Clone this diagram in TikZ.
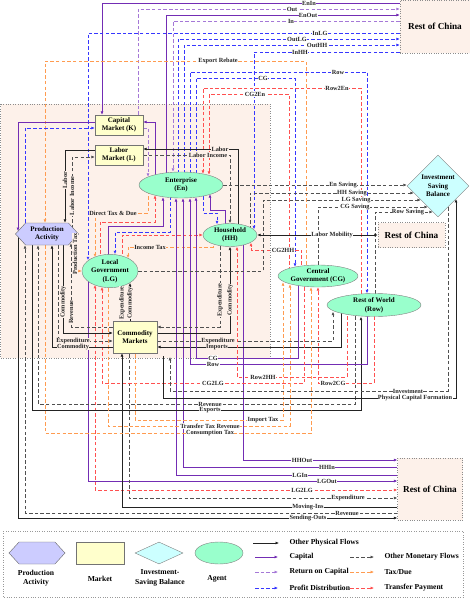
\documentclass[tikz,border=0pt]{standalone}
\usepackage{fontspec}
\setmainfont{Liberation Serif}
\usetikzlibrary{arrows.meta,shapes.geometric,shapes.symbols}

\definecolor{localbg}{RGB}{253,241,234}
\definecolor{mktyellow}{RGB}{255,255,204}
\definecolor{agentgreen}{RGB}{153,255,204}
\definecolor{isbcyan}{RGB}{204,255,255}
\definecolor{actblue}{RGB}{204,204,255}
\definecolor{physblack}{RGB}{35,35,35}
\definecolor{capviolet}{RGB}{115,45,180}
\definecolor{retviolet}{RGB}{165,120,215}
\definecolor{profblue}{RGB}{55,55,255}
\definecolor{moneygray}{RGB}{80,80,80}
\definecolor{taxorange}{RGB}{255,155,80}
\definecolor{transred}{RGB}{255,80,80}

\pgfdeclarelayer{back}
\pgfdeclarelayer{flows}
\pgfsetlayers{back,flows,main}

\begin{document}
\begin{tikzpicture}[x=1pt, y=-1pt, >={Latex[length=3.4pt,width=3pt]},
    every node/.style={font=\fontsize{7}{8.6}\selectfont\bfseries, align=center},
    market/.style={draw=black!55, fill=mktyellow, inner sep=0pt},
    agent/.style={ellipse, draw=black!50, fill=agentgreen, inner sep=0pt},
    activity/.style={signal, signal to=east and west, signal pointer angle=95,
                     draw=black!60, fill=actblue, inner sep=0pt},
    isb/.style={diamond, draw=black!50, fill=isbcyan, inner sep=0pt},
    chinabox/.style={draw=black!45, dotted, fill=localbg,
                     font=\fontsize{9.2}{10}\selectfont\bfseries},
    phys/.style={draw=physblack, line width=0.95pt},
    capflow/.style={draw=capviolet, line width=0.95pt},
    dashflow/.style={line width=0.85pt, dash pattern=on 3.5pt off 2.2pt},
    retcap/.style={dashflow, draw=retviolet},
    profit/.style={dashflow, draw=profblue},
    money/.style={dashflow, draw=moneygray},
    taxdue/.style={dashflow, draw=taxorange},
    transfer/.style={dashflow, draw=transred},
    lbl/.style={font=\fontsize{6.3}{7}\selectfont\bfseries, fill=white,
                inner sep=0.4pt, text=black!85},
    lblin/.style={lbl, fill=localbg},
    legtext/.style={font=\fontsize{7.6}{9}\selectfont\bfseries, anchor=west}]

    \useasboundingbox (0,0) rectangle (470,599);

    % 1. Local economy region
    \begin{pgfonlayer}{back}
        \draw[black!45, dotted, fill=localbg] (0.5,104) rectangle (270,358);
    \end{pgfonlayer}

    % 2. Markets, agents and the rest of China
    \node[market, minimum width=48pt, minimum height=20pt] (K) at (119,125) {Capital\\Market (K)};
    \node[market, minimum width=48pt, minimum height=20pt] (L) at (119,155) {Labor\\Market (L)};
    \node[agent, minimum width=84pt, minimum height=26pt] (En) at (181,185) {Enterprise\\(En)};
    \node[agent, minimum width=54pt, minimum height=23pt] (HH) at (230,235) {Household\\(HH)};
    \node[agent, minimum width=56pt, minimum height=32pt] (LG) at (110,271) {Local\\Government\\(LG)};
    \node[agent, minimum width=80pt, minimum height=22pt] (CG) at (318,276) {Central\\Government (CG)};
    \node[agent, minimum width=94pt, minimum height=23pt] (Row) at (374,305) {Rest of World\\(Row)};
    \node[isb, minimum width=62pt, minimum height=62pt] (ISB) at (438,186) {Investment\\Saving\\Balance};
    \node[activity, minimum width=63pt, minimum height=22pt] (PA) at (47,234) {Production\\Activity};
    \node[market, minimum width=44pt, minimum height=32pt] (CM) at (135,337) {Commodity\\Markets};
    \node[chinabox, minimum width=70pt, minimum height=53pt] (RC1) at (435,26.5) {Rest of China};
    \node[chinabox, minimum width=67pt, minimum height=25pt] (RC2) at (411.5,235) {Rest of China};
    \node[chinabox, minimum width=65pt, minimum height=62pt] (RC3) at (430,489) {Rest of China};

    \coordinate (invend)   at (170,357);
    \coordinate (pcfstart) at (163,356);

    \begin{pgfonlayer}{flows}
    % 3. Flows with the rest of China (top)
    \draw[capflow,->] (RC1.west |- 0,3) -| (K.north -| 102,0);
    \draw[retcap,->] (K.north -| 138,0) |- (RC1.west |- 0,9);
    \draw[capflow,->] (En.center -| 166,0) |- (RC1.west |- 0,15);
    \draw[retcap,->] (RC1.west |- 0,21) -| (En.north -| 173,0);
    \draw[profit,->] (RC1.west |- 0,33) -| ([yshift=-6pt]LG.north -| 88,0);
    \draw[profit,->] (En.center -| 178,0) |- (RC1.west |- 0,39);
    \draw[profit,->] (En.center -| 184,0) |- (RC1.west |- 0,45);
    \draw[profit,->] (RC1.west |- 0,52) -| ([yshift=-6pt]HH.north -| 254,0);

    % 4. Payments to and from the centre and the world (top)
    \draw[taxdue,->] (CG.center -| 306,0) |- (45,61) -- (PA.north -| 45,0);
    \draw[profit,->] (En.center -| 190,0) |- (367,72) -- (Row.north -| 367,0);
    \draw[profit,->] (En.center -| 196,0) |- (295,78) -- ([yshift=-2pt]CG.north -| 295,0);
    \draw[transfer,->] (Row.center -| 361,0) |- (203,88) -- ([yshift=-2pt]En.north -| 203,0);
    \draw[transfer,->] (CG.center -| 289,0) |- (209,94) -- ([yshift=-3pt]En.north -| 209,0);

    % 5. Capital and labor markets
    \draw[capflow,->] (En.center -| 155,0) |- (K.east |- 0,122);
    \draw[capflow,->] (K.west |- 0,122) -| ([yshift=3pt]PA.center -| 18,0);
    \draw[retcap,->] (K.east |- 0,128) -| ([yshift=-5pt]En.north -| 148,0);
    \draw[profit,->] (PA.center -| 25,0) |- (K.west |- 0,128);
    \draw[phys,->] (HH.center -| 238,0) |- (L.east |- 0,149);
    \draw[money,->] (L.east |- 0,155) -| (HH.north -| 230,0);
    \draw[phys,->] (L.west |- 0,150) -| (PA.north -| 65,0);
    \draw[money,->] (PA.center -| 72,0) |- (L.west |- 0,157);

    % 6. Taxes, transfers and capital around the local government
    \draw[taxdue,->] (En.center -| 148,0) |- (95,213) -- ([yshift=-3pt]LG.north -| 95,0);
    \draw[taxdue,->] (HH.center -| 213,0) |- (128,247) -- ([yshift=-4pt]LG.north -| 128,0);
    \draw[transfer,->] (LG.center -| 100,0) |- (155,222) -- ([yshift=3pt]En.south -| 155,0);
    \draw[capflow,->] (LG.center -| 108,0) |- (163,226) -- ([yshift=1pt]En.south -| 163,0);
    \draw[profit,->] (En.center -| 170,0) |- (115,232) -- (LG.north -| 115,0);
    \draw[transfer,->] (LG.center -| 122,0) |- (HH.west);
    \draw[profit,->] (En.center -| 203,0) |- (217,213) -- ([yshift=-1pt]HH.north -| 217,0);
    \draw[capflow,->] (HH.center -| 225,0) |- (210,210) -- ([yshift=4pt]En.south -| 210,0);
    \draw[taxdue,->] (PA.center -| 75,0) |- (LG.west);

    % 7. Flows with the rest of China (bottom)
    \draw[capflow,->] (HH.center -| 243,0) |- (RC3.west |- 0,460);
    \draw[capflow,->] (RC3.west |- 0,467) -| (En.south -| 183,0);
    \draw[capflow,->] (RC3.west |- 0,475) -| (En.south -| 176,0);
    \draw[capflow,->] (LG.center -| 88,0) |- (RC3.west |- 0,481);
    \draw[transfer,<->] ([yshift=3pt]LG.south -| 95,0) |- (RC3.west |- 0,490);
    \draw[money,->] (CM.center -| 129,0) |- (RC3.west |- 0,498);
    \draw[phys,->] (RC3.west |- 0,507) -| (CM.south -| 122,0);
    \draw[money,->] (RC3.west |- 0,513) -| (PA.south -| 25,0);
    \draw[phys,->] (PA.center -| 18,0) |- (RC3.west |- 0,518);

    % 8. Trade, capital and transfers with the world and the centre
    \draw[phys,->] (PA.center -| 32,0) |- (361,410) -- (Row.south -| 361,0);
    \draw[money,->] (Row.center -| 355,0) |- (38,404) -- (PA.south -| 38,0);
    \draw[money,->] (CM.east |- 0,341) -| ([yshift=5pt]Row.south -| 333,0);
    \draw[phys,->] (Row.center -| 341,0) |- (CM.east |- 0,347);
    \draw[capflow,->] (CG.center -| 298,0) |- (196,358) -- ([yshift=1pt]En.south -| 196,0);
    \draw[capflow,->] (Row.center -| 367,0) |- (190,364) -- (En.south -| 190,0);
    \draw[transfer,->] (Row.center -| 347,0) |- (237,377) -- (HH.south -| 237,0);
    \draw[transfer,->] (Row.center -| 374,0) |- (318,383) -- (CG.south -| 318,0);
    \draw[transfer,->] (CG.center -| 304,0) |- (102,383) -- ([yshift=1pt]LG.south -| 102,0);
    \draw[transfer,->] (CG.center -| 301,0) |- (251,250) -- ([yshift=4pt]HH.south -| 251,0);
    \draw[taxdue,->] (PA.center -| 45,0) |- (311,433) -- (CG.south -| 311,0);
    \draw[taxdue,->] (LG.center -| 108,0) |- (290,426) -- ([yshift=3pt]CG.south -| 290,0);
    \draw[taxdue,->] (CM.center -| 135,0) |- (283,420) -- ([yshift=5pt]CG.south -| 283,0);

    % 9. Commodity markets
    \draw[phys,->] (PA.center -| 63,0) |- (CM.west |- 0,333);
    \draw[money,->] (CM.west |- 0,327) -| ([yshift=2pt]PA.south -| 71,0);
    \draw[money,->] (PA.center -| 58,0) |- (CM.west |- 0,341);
    \draw[phys,->] (CM.west |- 0,347) -| (PA.south -| 52,0);
    \draw[money,->] (HH.center -| 220,0) |- (CM.east |- 0,327);
    \draw[phys,->] (CM.east |- 0,333) -| (HH.south -| 230,0);
    \draw[money,->] (LG.center -| 122,0) -- (CM.north -| 122,0);
    \draw[phys,->] (CM.north -| 130,0) -- ([yshift=5pt]LG.south -| 130,0);

    % 10. Savings and investment
    \draw[money,->] (En.east) -- (En.east -| ISB.west);
    \draw[money,->] (HH.center -| 250,0) |- ([xshift=7pt,yshift=-7pt]ISB.west);
    \draw[money,->] (LG.east) -| (263,200) -- ([xshift=14pt,yshift=-14pt]ISB.west);
    \draw[money,->] (CG.center -| 318,0) |- ([xshift=21pt,yshift=-21pt]ISB.west);
    \draw[money,->] (Row.center -| 375,0) |- ([xshift=26pt,yshift=-26pt]ISB.west);
    \draw[phys,<->] (HH.east) -- (RC2.west);
    \draw[money,->] ([xshift=10pt,yshift=-21pt]ISB.center) |- (170,391) -- (invend);
    \draw[phys,->] (pcfstart) |- (456,398) -- ([xshift=18pt,yshift=-13pt]ISB.center);
    \end{pgfonlayer}

    % 11. Flow labels
    \node[lbl] at (309,3) {EnIn};
    \node[lbl] at (292,9) {Out};
    \node[lbl] at (308,15) {EnOut};
    \node[lbl] at (291,21) {In};
    \node[lbl] at (320,33) {InLG};
    \node[lbl] at (297,39) {OutLG};
    \node[lbl] at (317,45) {OutHH};
    \node[lbl] at (300,52) {InHH};
    \node[lbl] at (218,61) {Export Rebate};
    \node[lbl] at (338,72) {Row};
    \node[lbl] at (263,78) {CG};
    \node[lbl] at (337,88) {Row2En};
    \node[lbl] at (255,94) {CG2En};
    \node[lblin] at (220,149) {Labor};
    \node[lblin] at (208,155) {Labor Income};
    \node[lblin, rotate=90] at (65,180) {Labor};
    \node[lblin, rotate=90] at (72,196) {Labor Income};
    \node[lblin] at (113,213) {Direct Tax \& Due};
    \node[lblin] at (150,247) {Income Tax};
    \node[lblin, rotate=90] at (75,254) {Production Tax};
    \node[lbl] at (343,185) {En Saving};
    \node[lbl] at (352,193) {HH Saving};
    \node[lbl] at (356,200) {LG Saving};
    \node[lbl] at (355,207) {CG Saving};
    \node[lbl] at (408,212) {Row Saving};
    \node[lbl] at (332,235) {Labor Mobility};
    \node[lbl] at (283,250) {CG2HH};
    \node[lblin, rotate=90] at (63,302) {Commodity};
    \node[lblin, rotate=90] at (71,312) {Revenue};
    \node[lblin, rotate=90] at (122,303) {Expenditure};
    \node[lblin, rotate=90] at (130,303) {Commodity};
    \node[lblin, rotate=90] at (220,300) {Expenditure};
    \node[lblin, rotate=90] at (230,300) {Commodity};
    \node[lblin] at (73,341) {Expenditure};
    \node[lblin] at (73,347) {Commodity};
    \node[lblin] at (218,341) {Expenditure};
    \node[lblin] at (217,347) {Imports};
    \node[lbl] at (213,358) {CG};
    \node[lbl] at (213,364) {Row};
    \node[lbl] at (263,377) {Row2HH};
    \node[lbl] at (213,383) {CG2LG};
    \node[lbl] at (333,383) {Row2CG};
    \node[lbl] at (408,391) {Investment};
    \node[lbl] at (415,398) {Physical Capital Formation};
    \node[lbl] at (210,404) {Revenue};
    \node[lbl] at (210,410) {Exports};
    \node[lbl] at (263,420) {Import Tax};
    \node[lbl] at (210,426) {Transfer Tax Revenue};
    \node[lbl] at (210,433) {Consumption Tax};
    \node[lbl] at (302,460) {HHOut};
    \node[lbl] at (327,467) {HHIn};
    \node[lbl] at (300,475) {LGIn};
    \node[lbl] at (327,481) {LGOut};
    \node[lbl] at (302,490) {LG2LG};
    \node[lbl] at (348,498) {Expenditure};
    \node[lbl] at (308,507) {Moving-Ins};
    \node[lbl] at (347,513) {Revenue};
    \node[lbl] at (308,518) {Sending-Outs};

    % 12. Legend
    \draw[black!40, dotted] (3,531) rectangle (463,597);
    \node[activity, minimum width=56pt, minimum height=22pt] (legPA) at (37,553) {};
    \node[market, minimum width=48pt, minimum height=22pt] (legM) at (100,553) {};
    \node[isb, minimum width=48pt, minimum height=22pt] (legISB) at (159,553) {};
    \node[agent, minimum width=48pt, minimum height=22pt] (legA) at (219,553) {};
    \node[font=\fontsize{7.6}{9.5}\selectfont\bfseries] at (36,578) {Production\\Activity};
    \node[font=\fontsize{7.6}{9.5}\selectfont\bfseries] at (100,579) {Market};
    \node[font=\fontsize{7.6}{9.5}\selectfont\bfseries] at (160,578) {Investment-\\Saving Balance};
    \node[font=\fontsize{7.6}{9.5}\selectfont\bfseries] at (217,579) {Agent};

    \draw[phys,->] (253,543) -- (279,543);
    \node[legtext] at (286,543) {Other Physical Flows};
    \draw[capflow,->] (255,557) -- (278,557);
    \node[legtext] at (286,557) {Capital};
    \draw[retcap,->] (255,572) -- (278,572);
    \node[legtext] at (286,572) {Return on Capital};
    \draw[profit,->] (255,588) -- (278,588);
    \node[legtext] at (286,588) {Profit Distribution};
    \draw[money,->] (350,557) -- (374,557);
    \node[legtext] at (381,557) {Other Monetary Flows};
    \draw[taxdue,->] (350,572) -- (374,572);
    \node[legtext] at (381,572) {Tax/Due};
    \draw[transfer,->] (350,588) -- (374,588);
    \node[legtext] at (381,588) {Transfer Payment};

\end{tikzpicture}
\end{document}
